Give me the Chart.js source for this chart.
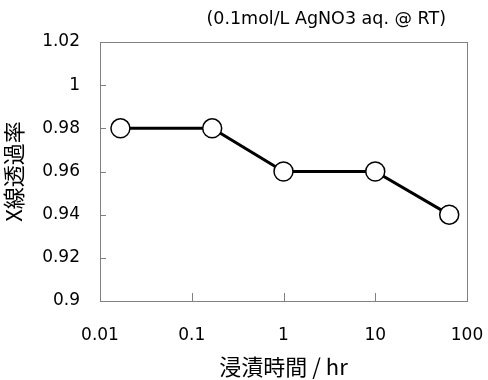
<!DOCTYPE html>
<html>
<head>
<meta charset="utf-8">
<script src="https://cdn.jsdelivr.net/npm/chart.js@4"></script>
<style>
  html, body { margin: 0; padding: 0; background: #fff; }
  #wrap { width: 488px; height: 380px; }
</style>
</head>
<body>
<div id="wrap"><canvas id="chart" width="488" height="380"></canvas></div>
<script>
// immersion time (hr) and X-ray transmittance
const hours = [0.0167, 0.167, 1, 10, 64];
const transmittance = [0.98, 0.98, 0.96, 0.96, 0.94];
const xTicks = [0.01, 0.1, 1, 10, 100];
const yTicks = [0.9, 0.92, 0.94, 0.96, 0.98, 1, 1.02];
const note = '(0.1mol/L AgNO3 aq. @ RT)';

const font = "'DejaVu Sans', sans-serif";
const cjk = "'Noto Sans CJK JP', sans-serif";

// frame + inward ticks + the note above the plot
const framePlugin = {
  id: 'frame',
  beforeDatasetsDraw(chart) {
    const { ctx, chartArea: a, scales } = chart;
    ctx.save();
    ctx.strokeStyle = '#808080';
    ctx.lineWidth = 1;
    ctx.strokeRect(a.left + 0.5, a.top + 0.5, a.right - a.left, a.bottom - a.top);
    ctx.beginPath();
    yTicks.slice(1, -1).forEach(v => {
      const y = Math.round(scales.y.getPixelForValue(v)) + 0.5;
      ctx.moveTo(a.left, y);
      ctx.lineTo(a.left + 6, y);
    });
    xTicks.slice(1, -1).forEach(v => {
      const x = Math.round(scales.x.getPixelForValue(v)) + 0.5;
      ctx.moveTo(x, a.bottom);
      ctx.lineTo(x, a.bottom - 8);
    });
    ctx.stroke();
    ctx.restore();
  },
  afterDraw(chart) {
    const { ctx, chartArea: a } = chart;
    ctx.save();
    ctx.fillStyle = '#000';
    ctx.font = '17.5px ' + font;
    ctx.textAlign = 'right';
    ctx.textBaseline = 'middle';
    ctx.fillText(note, a.right - 21, 19);
    ctx.restore();
  }
};

new Chart(document.getElementById('chart'), {
  type: 'line',
  data: {
    datasets: [{
      data: hours.map((h, i) => ({ x: h, y: transmittance[i] })),
      borderColor: '#000',
      borderWidth: 3,
      pointRadius: 9.5,
      pointHoverRadius: 9.5,
      pointBackgroundColor: '#fff',
      pointBorderColor: '#000',
      pointBorderWidth: 1.5,
      tension: 0
    }]
  },
  options: {
    responsive: false,
    animation: false,
    layout: { padding: { top: 42, right: 21, bottom: 0, left: 0 } },
    plugins: { legend: { display: false }, tooltip: { enabled: false } },
    scales: {
      x: {
        type: 'logarithmic',
        min: 0.01,
        max: 100,
        afterBuildTicks: s => { s.ticks = xTicks.map(v => ({ value: v })); },
        afterFit: s => { s.height = 79; s.paddingLeft = 0; s.paddingRight = 0; },
        grid: { display: false, drawTicks: false },
        border: { display: false },
        ticks: {
          autoSkip: false,
          maxRotation: 0,
          padding: 24,
          color: '#000',
          font: { family: font, size: 17 },
          callback: v => String(v)
        },
        title: {
          display: true,
          text: '浸漬時間 / hr',
          color: '#000',
          font: { family: cjk, size: 22 },
          padding: { top: 0, bottom: 0 }
        }
      },
      y: {
        min: 0.9,
        max: 1.02,
        afterBuildTicks: s => { s.ticks = yTicks.map(v => ({ value: v })); },
        afterFit: s => { s.width = 100; },
        grid: { display: false, drawTicks: false },
        border: { display: false },
        ticks: {
          padding: 20,
          color: '#000',
          font: { family: font, size: 17 },
          callback: v => String(Number(v.toFixed(2)))
        },
        title: {
          display: true,
          text: 'X線透過率',
          color: '#000',
          font: { family: cjk, size: 22 },
          padding: { top: 0, bottom: 0 }
        }
      }
    }
  },
  plugins: [framePlugin]
});
</script>
</body>
</html>
